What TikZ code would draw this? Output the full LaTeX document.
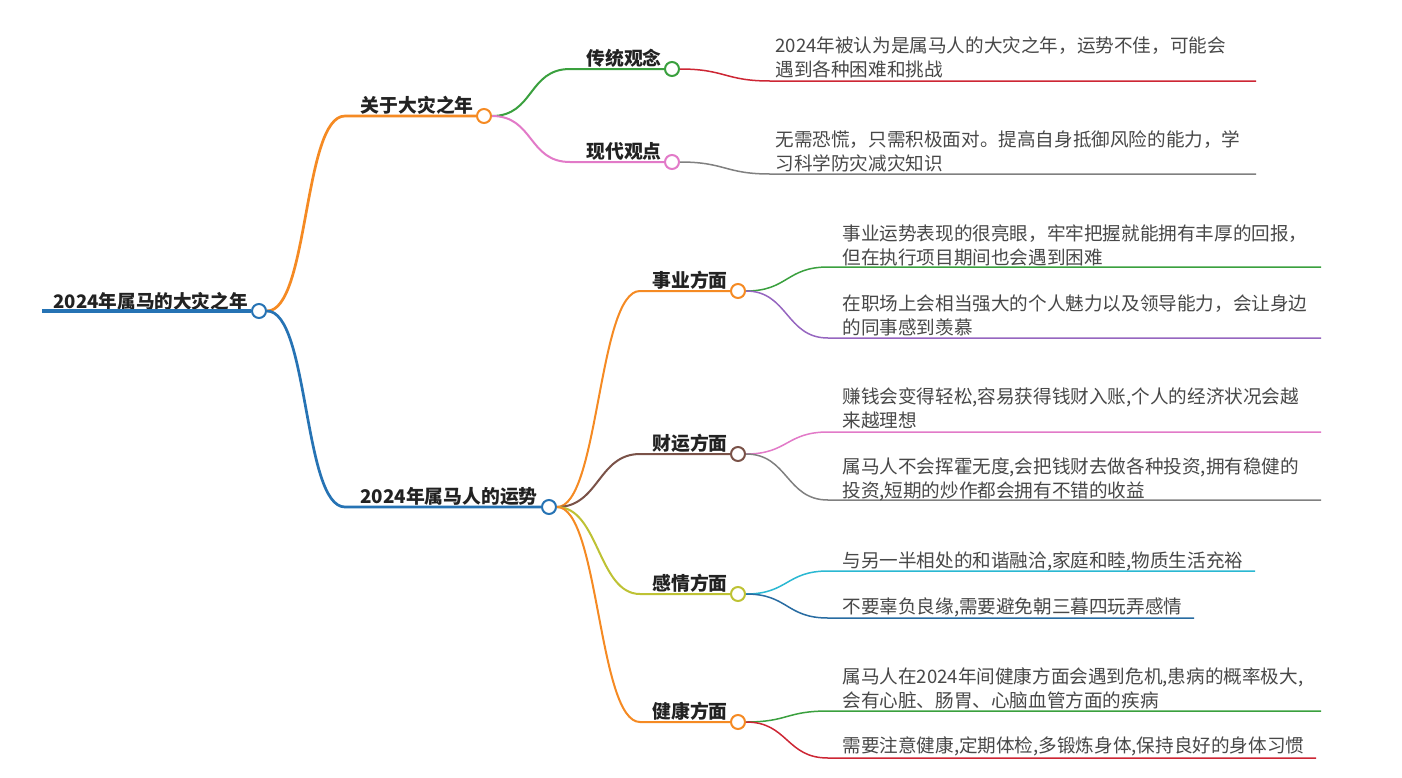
\documentclass[tikz,border=0pt]{standalone}
\usepackage{fontspec}
\setmainfont{Noto Sans CJK SC}
\definecolor{cRoot}{RGB}{38,115,180}
\definecolor{cOrange}{RGB}{245,138,35}
\definecolor{cGreen}{RGB}{58,160,62}
\definecolor{cRed}{RGB}{205,38,52}
\definecolor{cPink}{RGB}{226,122,200}
\definecolor{cGrey}{RGB}{128,128,128}
\definecolor{cPurple}{RGB}{150,102,192}
\definecolor{cBrown}{RGB}{122,82,72}
\definecolor{cOlive}{RGB}{190,194,52}
\definecolor{cCyan}{RGB}{42,184,210}
\definecolor{cDBlue}{RGB}{40,108,162}
\definecolor{cLeafTxt}{RGB}{72,72,72}
\definecolor{cLblTxt}{RGB}{34,34,34}
\begin{document}
\begin{tikzpicture}[x=0.5pt,y=-0.5pt,
  dot/.style={circle, draw, fill=white, line width=1pt, minimum size=7pt, inner sep=0pt},
  lbl/.style={font=\bfseries\fontsize{9.4}{11}\selectfont, text=cLblTxt, inner sep=0pt, anchor=base east},
  leaf/.style={font=\fontsize{9.3}{11.75}\selectfont, text=cLeafTxt, inner sep=0pt, anchor=base west, align=left},
  lvroot/.style={line width=2pt},
  lvone/.style={line width=1.35pt},
  lvtwo/.style={line width=1pt},
  lvthree/.style={line width=0.75pt}]
\fill[white] (0,0) rectangle (1402,777);
\useasboundingbox (0,0) rectangle (1402,777);

% ---------- root ----------
\node[dot, draw=cRoot] (r) at (259,311) {};
\node[lbl, font=\bfseries\fontsize{9.3}{11}\selectfont] (rt) at (248,308) {2024年属马的大灾之年};
\coordinate (rs) at (42,311);
\draw[cRoot, lvroot] (rs) -- (r);

% ---------- level 1 ----------
\node[dot, draw=cOrange] (a) at (484,116) {};
\node[lbl] (at) at (474,112) {关于大灾之年};
\coordinate (as) at (345,116);
\draw[cOrange, lvone] (r.east) .. controls +(42,0) and +(-42,0) .. (as) -- (a);

\node[dot, draw=cRoot] (b) at (549,507) {};
\node[lbl] (bt) at (538,503) {2024年属马人的运势};
\coordinate (bs) at (345,507);
\draw[cRoot, lvone] (r.east) .. controls +(42,0) and +(-42,0) .. (bs) -- (b);

% ---------- under 关于大灾之年 ----------
\node[dot, draw=cGreen] (a1) at (672,69) {};
\node[lbl] (a1t) at (662,65) {传统观念};
\coordinate (a1s) at (570,69);
\draw[cGreen, lvtwo] (a.east) .. controls +(42,0) and +(-42,0) .. (a1s) -- (a1);

\node[dot, draw=cPink] (a2) at (672,162) {};
\node[lbl] (a2t) at (662,158) {现代观点};
\coordinate (a2s) at (570,162);
\draw[cPink, lvtwo] (a.east) .. controls +(42,0) and +(-42,0) .. (a2s) -- (a2);

\coordinate (a1m) at (770,81);
\coordinate (a1e) at (1256,81);
\draw[cRed, lvthree] (a1.east) .. controls +(45,0) and +(-45,0) .. (a1m) -- (a1e);
\node[leaf] (a1l) at (775,76) {2024年被认为是属马人的大灾之年，运势不佳，可能会\\遇到各种困难和挑战};

\coordinate (a2m) at (770,174);
\coordinate (a2e) at (1256,174);
\draw[cGrey, lvthree] (a2.east) .. controls +(45,0) and +(-45,0) .. (a2m) -- (a2e);
\node[leaf] (a2l) at (775,170) {无需恐慌，只需积极面对。提高自身抵御风险的能力，学\\习科学防灾减灾知识};

% ---------- under 2024年属马人的运势 ----------
\node[dot, draw=cOrange] (c1) at (738,291) {};
\node[lbl] (c1t) at (728,287) {事业方面};
\coordinate (c1s) at (640,291);
\draw[cOrange, lvtwo] (b.east) .. controls +(42,0) and +(-42,0) .. (c1s) -- (c1);

\node[dot, draw=cBrown] (c2) at (738,454) {};
\node[lbl] (c2t) at (728,450) {财运方面};
\coordinate (c2s) at (640,454);
\draw[cBrown, lvtwo] (b.east) .. controls +(42,0) and +(-42,0) .. (c2s) -- (c2);

\node[dot, draw=cOlive] (c3) at (738,594) {};
\node[lbl] (c3t) at (728,590) {感情方面};
\coordinate (c3s) at (640,594);
\draw[cOlive, lvtwo] (b.east) .. controls +(42,0) and +(-42,0) .. (c3s) -- (c3);

\node[dot, draw=cOrange] (c4) at (738,722) {};
\node[lbl] (c4t) at (728,718) {健康方面};
\coordinate (c4s) at (640,722);
\draw[cOrange, lvtwo] (b.east) .. controls +(42,0) and +(-42,0) .. (c4s) -- (c4);

% ---------- leaves: 事业 ----------
\coordinate (c1am) at (828,267);
\coordinate (c1ae) at (1321,267);
\draw[cGreen, lvthree] (c1.east) .. controls +(42,0) and +(-42,0) .. (c1am) -- (c1ae);
\node[leaf] (c1al) at (842,264) {事业运势表现的很亮眼，牢牢把握就能拥有丰厚的回报，\\但在执行项目期间也会遇到困难};

\coordinate (c1bm) at (828,338);
\coordinate (c1be) at (1321,338);
\draw[cPurple, lvthree] (c1.east) .. controls +(42,0) and +(-42,0) .. (c1bm) -- (c1be);
\node[leaf] (c1bl) at (842,334) {在职场上会相当强大的个人魅力以及领导能力，会让身边\\的同事感到羡慕};

% ---------- leaves: 财运 ----------
\coordinate (c2am) at (828,432);
\coordinate (c2ae) at (1321,432);
\draw[cPink, lvthree] (c2.east) .. controls +(42,0) and +(-42,0) .. (c2am) -- (c2ae);
\node[leaf] (c2al) at (842,427) {赚钱会变得轻松,容易获得钱财入账,个人的经济状况会越\\来越理想};

\coordinate (c2bm) at (828,500);
\coordinate (c2be) at (1321,500);
\draw[cGrey, lvthree] (c2.east) .. controls +(42,0) and +(-42,0) .. (c2bm) -- (c2be);
\node[leaf] (c2bl) at (842,497) {属马人不会挥霍无度,会把钱财去做各种投资,拥有稳健的\\投资,短期的炒作都会拥有不错的收益};

% ---------- leaves: 感情 ----------
\coordinate (c3am) at (828,571);
\coordinate (c3ae) at (1255,571);
\draw[cCyan, lvthree] (c3.east) .. controls +(42,0) and +(-42,0) .. (c3am) -- (c3ae);
\node[leaf] (c3al) at (842,567) {与另一半相处的和谐融洽,家庭和睦,物质生活充裕};

\coordinate (c3bm) at (828,618);
\coordinate (c3be) at (1194,618);
\draw[cDBlue, lvthree] (c3.east) .. controls +(42,0) and +(-42,0) .. (c3bm) -- (c3be);
\node[leaf] (c3bl) at (842,613) {不要辜负良缘,需要避免朝三暮四玩弄感情};

% ---------- leaves: 健康 ----------
\coordinate (c4am) at (828,711);
\coordinate (c4ae) at (1321,711);
\draw[cGreen, lvthree] (c4.east) .. controls +(42,0) and +(-42,0) .. (c4am) -- (c4ae);
\node[leaf] (c4al) at (842,707) {属马人在2024年间健康方面会遇到危机,患病的概率极大,\\会有心脏、肠胃、心脑血管方面的疾病};

\coordinate (c4bm) at (828,758);
\coordinate (c4be) at (1316,758);
\draw[cRed, lvthree] (c4.east) .. controls +(42,0) and +(-42,0) .. (c4bm) -- (c4be);
\node[leaf] (c4bl) at (842,752) {需要注意健康,定期体检,多锻炼身体,保持良好的身体习惯};
\end{tikzpicture}
\end{document}
